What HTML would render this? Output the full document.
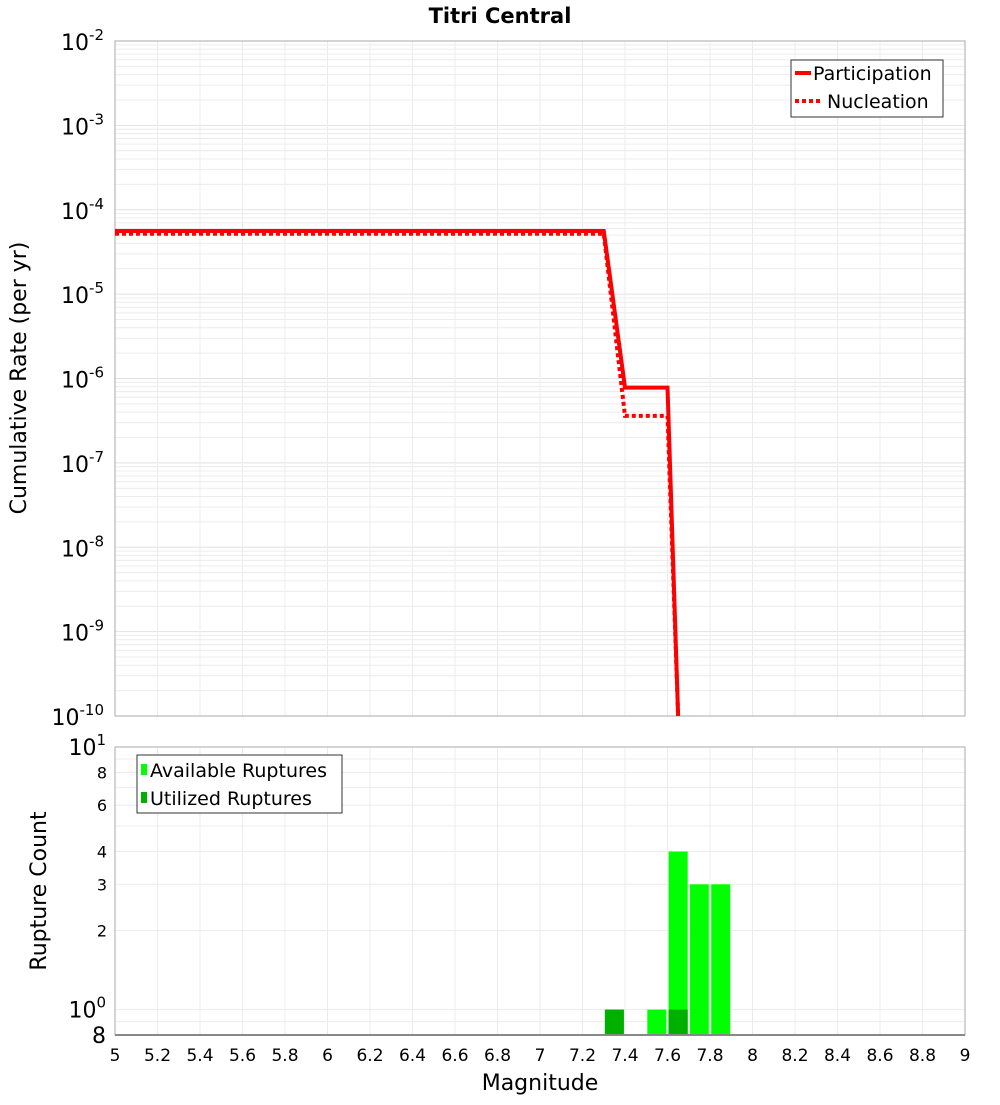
<!DOCTYPE html>
<html><head><meta charset="utf-8"><style>
body{margin:0;background:#fff;font-family:"Liberation Sans","DejaVu Sans",sans-serif}
svg text{font-family:"DejaVu Sans","Liberation Sans",sans-serif}
</style></head><body>
<svg id="c" width="1000" height="1100" xmlns="http://www.w3.org/2000/svg">
<text x="500" y="23" text-anchor="middle" font-size="21" font-weight="bold">Titri Central</text>
<g id="top"></g>
<g id="bot"></g>
<text transform="translate(26,378) rotate(-90)" text-anchor="middle" font-size="22">Cumulative Rate (per yr)</text>
<text transform="translate(46,891) rotate(-90)" text-anchor="middle" font-size="22">Rupture Count</text>
<text x="540" y="1090" text-anchor="middle" font-size="22">Magnitude</text>
</svg>
<script>
const partMag=[5,7.3,7.4,7.6,7.65];
const partRate=[5.6e-5,5.6e-5,7.8e-7,7.8e-7,1e-10];
const nuclMag=[5,7.3,7.4,7.6,7.65];
const nuclRate=[5.2e-5,5.2e-5,3.6e-7,3.6e-7,1e-10];
const barMag=[7.35,7.55,7.65,7.75,7.85];
const availCount=[0,1,4,3,3];
const usedCount=[1,0,1,0,0];
const xTicks=[5,5.2,5.4,5.6,5.8,6,6.2,6.4,6.6,6.8,7,7.2,7.4,7.6,7.8,8,8.2,8.4,8.6,8.8,9];

const NS="http://www.w3.org/2000/svg";
const L=115,R=965;
const x=m=>L+(m-5)/4*(R-L);
const T1=41,B1=716;
const y1=v=>T1+(-2-Math.log10(v))/8*(B1-T1);
const T2=747,B2=1035,lmin=Math.log10(0.8);
const y2=v=>T2+(1-Math.log10(v))/(1-lmin)*(B2-T2);
function mk(p,tag,a){const e=document.createElementNS(NS,tag);for(const k in a)e.setAttribute(k,a[k]);p.appendChild(e);return e;}
const topG=document.getElementById('top'),botG=document.getElementById('bot');

for(let d=-10;d<-2;d++)for(let k=1;k<10;k++){const yy=y1(k*Math.pow(10,d));const g=mk(topG,'line',{x1:L,x2:R,y1:yy,y2:yy,stroke:k==1?'#e2e2e2':'#ececec','stroke-width':1});

}
xTicks.forEach(t=>{const g=mk(topG,'line',{x1:x(t),x2:x(t),y1:T1,y2:B1,stroke:'#ececec'});


 const g2=mk(botG,'line',{x1:x(t),x2:x(t),y1:T2,y2:B2,stroke:'#ececec'});

});
mk(topG,'rect',{x:L,y:T1,width:R-L,height:B1-T1,fill:'none',stroke:'#aaa'});
for(let d=-10;d<=-2;d++){const t=mk(topG,'text',{x:104,y:y1(Math.pow(10,d))+9,'text-anchor':'end','font-size':22});


t.innerHTML='10<tspan dy="-10" font-size="15">'+d+'</tspan>';}
function pl(ms,vs,dash,name){const p=mk(topG,'polyline',{points:ms.map((m,i)=>x(m)+','+Math.min(y1(vs[i]),B1+1)).join(' '),fill:'none',stroke:'#f00','stroke-width':4});if(dash)p.setAttribute('stroke-dasharray','4,3');

}
pl(nuclMag,nuclRate,true,'nucleation-line');
pl(partMag,partRate,false,'participation-line');
const lg=mk(topG,'g',{});


mk(lg,'rect',{x:791,y:60,width:152,height:57,fill:'#fff',stroke:'#333'});
mk(lg,'line',{x1:795,x2:811,y1:73,y2:73,stroke:'#f00','stroke-width':4});
mk(lg,'line',{x1:795,x2:821,y1:101,y2:101,stroke:'#f00','stroke-width':4,'stroke-dasharray':'4,3'});
mk(lg,'text',{x:813,y:80,'font-size':19}).textContent='Participation';
mk(lg,'text',{x:827,y:108,'font-size':19}).textContent='Nucleation';

[1,2,3,4,5,6,7,8,9,10,0.8,0.9].forEach(v=>{const g=mk(botG,'line',{x1:L,x2:R,y1:y2(v),y2:y2(v),stroke:'#ececec'});

});
const bw=(R-L)/4*0.09;
barMag.forEach((m,i)=>{if(availCount[i]>0){const r=mk(botG,'rect',{x:x(m)-bw/2,y:y2(availCount[i]),width:bw,height:B2-y2(availCount[i]),fill:'#00ff00',stroke:'#8f8',"stroke-width":0.5});

}
 if(usedCount[i]>0){const r=mk(botG,'rect',{x:x(m)-bw/2,y:y2(usedCount[i]),width:bw,height:B2-y2(usedCount[i]),fill:'#00b000'});

}});
mk(botG,'rect',{x:L,y:T2,width:R-L,height:B2-T2,fill:'none',stroke:'#aaa'});
mk(botG,'line',{x1:L,x2:R,y1:B2,y2:B2,stroke:'#888','stroke-width':2});
[[10,'10<tspan dy="-10" font-size="15">1</tspan>',22],[8,'8',16],[6,'6',16],[4,'4',16],[3,'3',16],[2,'2',16],[1,'10<tspan dy="-10" font-size="15">0</tspan>',22],[0.8,'8',22]].forEach(a=>{const t=mk(botG,'text',{x:a[2]>20?106:107,y:y2(a[0])+(a[2]>20?8:6),'text-anchor':'end','font-size':a[2]});


t.innerHTML=a[1];});
xTicks.forEach(v=>{const t=mk(botG,'text',{x:x(v),y:1061,'text-anchor':'middle','font-size':17});


t.textContent=String(v);});
const lb=mk(botG,'g',{});


mk(lb,'rect',{x:137,y:755,width:205,height:58,fill:'#fff',stroke:'#333'});
mk(lb,'rect',{x:141,y:764,width:6,height:11,fill:'#00ff00'});
mk(lb,'rect',{x:141,y:792,width:6,height:11,fill:'#00b000'});
mk(lb,'text',{x:150,y:777,'font-size':19}).textContent='Available Ruptures';
mk(lb,'text',{x:150,y:805,'font-size':19}).textContent='Utilized Ruptures';
</script>
</body></html>
